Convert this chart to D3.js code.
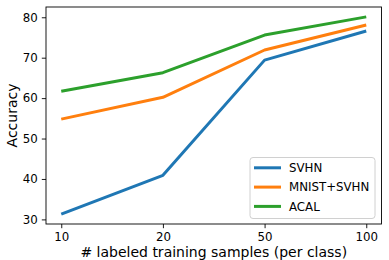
<!DOCTYPE html>
<html>
<head>
<meta charset="utf-8">
<script src="https://cdn.jsdelivr.net/npm/d3@7"></script>
<style>
  body { margin: 0; background: #fff; }
  text { font-family: "DejaVu Sans", sans-serif; fill: #000; }
</style>
</head>
<body>
<div id="chart"></div>
<script>
var svgWidth = 389;
var svgHeight = 260;

var margin = { top: 7, right: 7.5, bottom: 36, left: 46 };
var width = svgWidth - margin.left - margin.right;
var height = svgHeight - margin.top - margin.bottom;

// data
var samples = ["10", "20", "50", "100"];
var seriesNames = ["SVHN", "MNIST+SVHN", "ACAL"];
var svhn = [31.3, 40.9, 69.4, 76.6];
var mnistSvhn = [54.8, 60.2, 71.9, 78.1];
var acal = [61.7, 66.3, 75.6, 80.1];
var yTicks = [30, 40, 50, 60, 70, 80];
var colors = ["#1f77b4", "#ff7f0e", "#2ca02c"];

var allSeries = [svhn, mnistSvhn, acal];

var svg = d3.select("#chart")
  .append("svg")
  .attr("width", svgWidth)
  .attr("height", svgHeight);

var chartGroup = svg.append("g")
  .attr("transform", `translate(${margin.left}, ${margin.top})`);

// x: categorical positions with matplotlib-like 5% padding
var xScale = d3.scaleLinear()
  .domain([-0.15, samples.length - 1 + 0.15])
  .range([0, width]);

var yMin = d3.min(allSeries, s => d3.min(s));
var yMax = d3.max(allSeries, s => d3.max(s));
var pad = (yMax - yMin) * 0.05;
var yScale = d3.scaleLinear()
  .domain([yMin - pad, yMax + pad])
  .range([height, 0]);

var bottomAxis = d3.axisBottom(xScale)
  .tickValues(d3.range(samples.length))
  .tickFormat(i => samples[i])
  .tickSize(4.2)
  .tickPadding(4.3);

var leftAxis = d3.axisLeft(yScale)
  .tickValues(yTicks)
  .tickSize(4.2)
  .tickPadding(4);

var xAxisG = chartGroup.append("g")
  .attr("transform", `translate(0, ${height})`)
  .call(bottomAxis);

var yAxisG = chartGroup.append("g")
  .call(leftAxis);

[xAxisG, yAxisG].forEach(function(g) {
  g.select(".domain").remove();
  g.selectAll("line").attr("stroke", "#000").attr("stroke-width", 0.9);
  g.selectAll("text").attr("font-size", "11.8px").attr("font-family", "DejaVu Sans").attr("fill", "#000");
});

// lines
var line = d3.line()
  .x((d, i) => xScale(i))
  .y(d => yScale(d));

chartGroup.selectAll(".series")
  .data(allSeries)
  .enter()
  .append("path")
  .attr("class", "series")
  .attr("d", d => line(d))
  .attr("fill", "none")
  .attr("stroke", (d, i) => colors[i])
  .attr("stroke-width", 3)
  .attr("stroke-linejoin", "round");

// frame
chartGroup.append("rect")
  .attr("width", width)
  .attr("height", height)
  .attr("fill", "none")
  .attr("stroke", "#000")
  .attr("stroke-width", 0.9);

// axis labels
chartGroup.append("text")
  .attr("transform", "rotate(-90)")
  .attr("x", -height / 2)
  .attr("y", -29.5)
  .attr("text-anchor", "middle")
  .attr("font-size", "14px")
  .text("Accuracy");

chartGroup.append("text")
  .attr("x", width / 2)
  .attr("y", height + 33)
  .attr("text-anchor", "middle")
  .attr("font-size", "14px")
  .text("# labeled training samples (per class)");

// legend
var legend = chartGroup.append("g")
  .attr("transform", `translate(${250 - margin.left}, ${157.5 - margin.top})`);

legend.append("rect")
  .attr("width", 125)
  .attr("height", 61)
  .attr("rx", 3)
  .attr("fill", "#fff")
  .attr("fill-opacity", 0.8)
  .attr("stroke", "#d0d0d0")
  .attr("stroke-width", 1);

var rows = legend.selectAll(".row")
  .data(seriesNames)
  .enter()
  .append("g")
  .attr("transform", (d, i) => `translate(0, ${10.3 + i * 19.3})`);

rows.append("line")
  .attr("x1", 4).attr("x2", 31)
  .attr("stroke", (d, i) => colors[i])
  .attr("stroke-width", 3);

rows.append("text")
  .attr("x", 39)
  .attr("dy", "0.35em")
  .attr("font-size", "11.8px")
  .text(d => d);
</script>
</body>
</html>
